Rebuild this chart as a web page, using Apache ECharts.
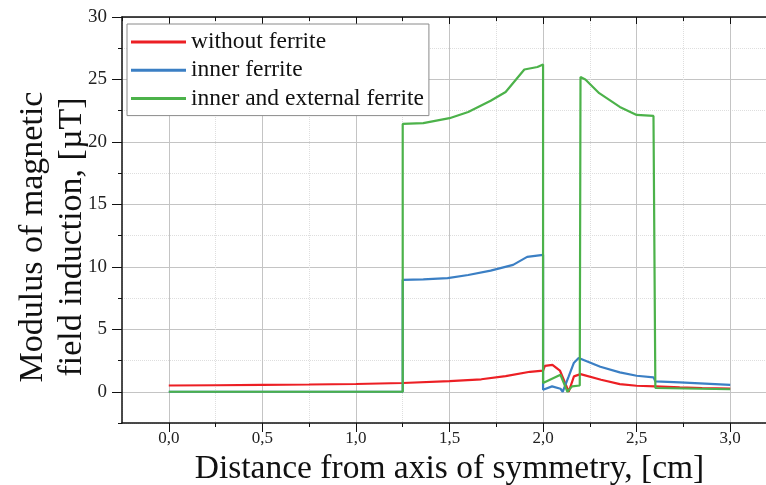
<!DOCTYPE html>
<html>
<head>
<meta charset="utf-8">
<script src="https://cdn.jsdelivr.net/npm/echarts@6/dist/echarts.min.js"></script>
<style>
  html, body { margin: 0; padding: 0; background: #fff; overflow: hidden; }
  #chart { width: 766px; height: 485px; }
</style>
</head>
<body>
<div id="chart"></div>
<script>
// series names (legend)
const seriesNames = ["without ferrite", "inner ferrite", "inner and external ferrite"];

// without ferrite
const redX = [0, 0.25, 0.5, 0.75, 1.0, 1.25, 1.5, 1.67, 1.8, 1.93, 2.0, 2.01, 2.05, 2.09, 2.137, 2.165, 2.2, 2.31, 2.41, 2.5, 2.6, 2.73, 2.85, 3.0];
const redY = [0.5, 0.52, 0.55, 0.58, 0.62, 0.7, 0.85, 1.0, 1.25, 1.6, 1.7, 2.08, 2.16, 1.7, 0.0, 1.23, 1.41, 0.96, 0.61, 0.48, 0.43, 0.35, 0.3, 0.25];

// inner ferrite
const blueX = [0, 1.25, 1.25, 1.36, 1.49, 1.6, 1.72, 1.84, 1.915, 2.0, 2.0, 2.048, 2.093, 2.105, 2.137, 2.164, 2.19, 2.2, 2.306, 2.41, 2.5, 2.59, 2.6, 2.73, 3.0];
const blueY = [0, 0, 8.96, 9.0, 9.1, 9.35, 9.7, 10.16, 10.8, 10.96, 0.16, 0.43, 0.24, 0.0, 1.23, 2.3, 2.7, 2.6, 2.0, 1.55, 1.28, 1.15, 0.83, 0.75, 0.55];

// inner and external ferrite
const greenX = [0, 1.25, 1.25, 1.36, 1.5, 1.6, 1.72, 1.8, 1.9, 1.97, 2.0, 2.0, 2.093, 2.13, 2.155, 2.196, 2.2, 2.226, 2.3, 2.41, 2.5, 2.59, 2.6, 2.6, 3.0];
const greenY = [0, 0, 21.44, 21.5, 21.9, 22.4, 23.3, 24.0, 25.8, 26.0, 26.2, 0.7, 1.36, 0.0, 0.43, 0.5, 25.2, 25.0, 23.9, 22.8, 22.16, 22.08, 22.05, 0.3, 0.2];

// major tick positions
const xMajorTicks = [0, 0.5, 1.0, 1.5, 2.0, 2.5, 3.0];
const yMajorTicks = [0, 5, 10, 15, 20, 25, 30];

const colors = ["#ec1f24", "#3b7fc4", "#4cb24a"];
const serif = "Liberation Serif";
const ink = "#111";

function pairs(xs, ys) {
  return xs.map((x, i) => [x, ys[i]]);
}

function isStep(v, step) {
  return Math.abs(v / step - Math.round(v / step)) < 1e-6;
}

const gridBox = { left: 122, right: -11, top: 17, bottom: 62, outerBoundsMode: "none" };
const xRange = { type: "value", min: -0.25, max: 3.25, interval: 0.25 };
const yRange = { type: "value", min: -2.5, max: 30, interval: 2.5 };

// axis used only to draw the long major ticks (second, overlaid grid)
function majorTickAxis(range, gridIndex, position, values, inside, length) {
  return Object.assign({}, range, {
    gridIndex,
    position,
    axisLine: { show: false, onZero: false },
    axisLabel: { show: false },
    splitLine: { show: false },
    axisTick: { show: true, inside, length, customValues: values, lineStyle: { color: ink } },
  });
}

const chart = echarts.init(document.getElementById("chart"));

const option = {
  backgroundColor: "#fff",
  animation: false,
  color: colors,
  grid: [Object.assign({}, gridBox), Object.assign({}, gridBox)],
  legend: {
    orient: "vertical",
    left: 127,
    top: 24,
    data: seriesNames,
    icon: "rect",
    itemWidth: 55,
    itemHeight: 3,
    itemGap: 4.3,
    padding: [6, 5, 5, 4],
    backgroundColor: "#fff",
    borderColor: "#8a8a8a",
    borderWidth: 1,
    textStyle: {
      fontFamily: serif,
      fontSize: 23.5,
      lineHeight: 24,
      color: ink,
    },
  },
  xAxis: [
    Object.assign({}, xRange, {
      gridIndex: 0,
      position: "bottom",
      name: "Distance from axis of symmetry, [cm]",
      nameLocation: "middle",
      nameGap: 29,
      nameMoveOverlap: false,
      nameTextStyle: { fontFamily: serif, fontSize: 33.5, color: ink },
      axisLine: { onZero: false, lineStyle: { color: ink, width: 1.5 } },
      axisTick: { inside: false, length: 4, lineStyle: { color: ink } },
      axisLabel: {
        fontFamily: serif,
        fontSize: 17,
        color: "#222",
        margin: 7,
        showMinLabel: false,
        showMaxLabel: false,
        formatter: (v) =>
          isStep(v, 0.5) && v >= 0 && v <= 3 ? v.toFixed(1).replace(".", ",") : "",
      },
      splitLine: { show: true, lineStyle: { color: "#dedede", type: "dotted" } },
    }),
    Object.assign({}, xRange, {
      // top frame with major grid lines
      gridIndex: 0,
      position: "top",
      axisLine: { onZero: false, lineStyle: { color: ink, width: 1.5 } },
      axisTick: { inside: true, length: 4, lineStyle: { color: ink } },
      axisLabel: { show: false },
      splitLine: {
        show: true,
        lineStyle: { color: ["rgba(0,0,0,0)", "#c4c4c4"], type: "solid" },
      },
    }),
    majorTickAxis(xRange, 1, "bottom", xMajorTicks, false, 9),
    majorTickAxis(xRange, 1, "top", xMajorTicks, true, 7),
  ],
  yAxis: [
    Object.assign({}, yRange, {
      gridIndex: 0,
      position: "left",
      name: "Modulus of magnetic\nfield induction, [µT]",
      nameLocation: "middle",
      nameGap: 30,
      nameMoveOverlap: false,
      nameTextStyle: {
        fontFamily: serif,
        fontSize: 34,
        lineHeight: 39,
        color: ink,
        padding: [0, 34, 0, 0],
      },
      axisLine: { onZero: false, lineStyle: { color: ink, width: 1.5 } },
      axisTick: { inside: false, length: 4, lineStyle: { color: ink } },
      axisLabel: {
        fontFamily: serif,
        fontSize: 19,
        color: "#222",
        margin: 15,
        formatter: (v) => (isStep(v, 5) && v >= 0 ? String(Math.round(v)) : ""),
      },
      splitLine: { show: true, lineStyle: { color: "#dedede", type: "dotted" } },
    }),
    Object.assign({}, yRange, {
      // right side (off screen) with major grid lines
      gridIndex: 0,
      position: "right",
      axisLine: { show: false },
      axisTick: { show: false },
      axisLabel: { show: false },
      splitLine: {
        show: true,
        lineStyle: { color: ["rgba(0,0,0,0)", "#c4c4c4"], type: "solid" },
      },
    }),
    majorTickAxis(yRange, 1, "left", yMajorTicks, false, 10),
  ],
  series: [
    {
      name: seriesNames[0],
      type: "line",
      data: pairs(redX, redY),
      showSymbol: false,
      lineStyle: { width: 2.2 },
      z: 3,
    },
    {
      name: seriesNames[1],
      type: "line",
      data: pairs(blueX, blueY),
      showSymbol: false,
      lineStyle: { width: 2.2 },
      z: 4,
    },
    {
      name: seriesNames[2],
      type: "line",
      data: pairs(greenX, greenY),
      showSymbol: false,
      lineStyle: { width: 2.2 },
      z: 5,
    },
  ],
};

chart.setOption(option);
</script>
</body>
</html>
